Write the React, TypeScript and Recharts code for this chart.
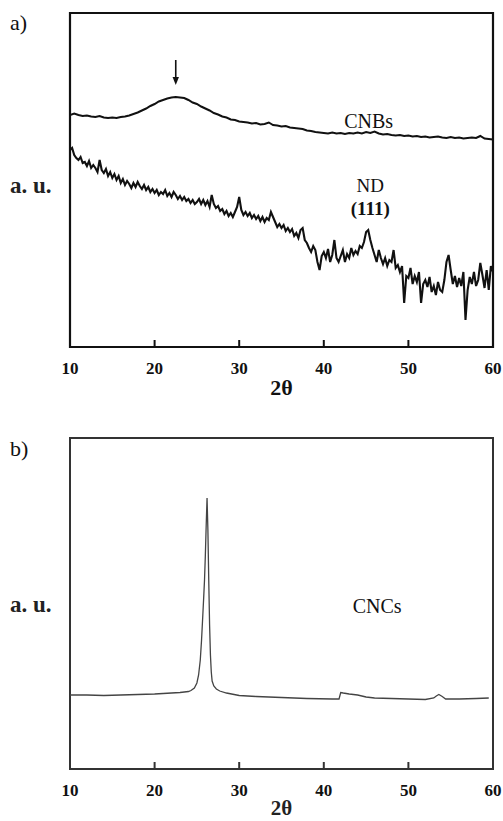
import React from 'react';
import { LineChart, Line, XAxis, YAxis, ReferenceArea, ReferenceDot, ReferenceLine } from 'recharts';

// ---------- panel a) ----------
const xTicks = [10, 20, 30, 40, 50, 60];

const cnbTheta = [
  10, 10.5, 11, 11.5, 12, 12.5, 13, 13.5, 14, 14.5, 15, 15.5, 16, 16.5, 17, 17.5, 18, 18.5, 19, 19.5,
  20, 20.5, 21, 21.5, 22, 22.5, 23, 23.5, 24, 24.5, 25, 25.5, 26, 26.5, 27, 27.5, 28, 28.5, 29, 29.5,
  30, 30.5, 31, 31.5, 32, 32.5, 33, 33.5, 34, 34.5, 35, 35.5, 36, 36.5, 37, 37.5, 38, 38.5, 39, 39.5,
  40, 40.5, 41, 41.5, 42, 42.5, 43, 43.5, 44, 44.5, 45, 45.5, 46, 46.5, 47, 47.5, 48, 48.5, 49, 49.5,
  50, 50.5, 51, 51.5, 52, 52.5, 53, 53.5, 54, 54.5, 55, 55.5, 56, 56.5, 57, 57.5, 58, 58.5, 59, 59.5,
  60,
];
const cnbIntensity = [
  232, 233.5, 232, 231, 231.5, 230.5, 230, 231, 229.5, 229, 229.5, 229, 230, 230.5, 231.5, 233, 234.5, 236.5, 238.5, 241,
  243, 245.5, 247, 248.5, 249.5, 250, 249.5, 249, 247, 244.5, 243, 240.5, 238.5, 236.5, 234, 232.5, 230.5, 229.5, 227.5, 227,
  225.5, 225, 224.5, 223.5, 224, 222.5, 223, 224.5, 222, 221.5, 220.5, 221, 219.5, 219, 218.5, 218, 216.5, 216, 215, 214.5,
  214, 213.5, 214.5, 213.5, 214, 213, 214, 213.5, 214.5, 213.5, 215, 214, 215.5, 213.5, 212.5, 213, 212, 211.5, 212, 211,
  211.5, 210.5, 211, 210, 210.5, 209.5, 210, 210.5, 209.5, 209, 210, 209, 209.5, 208.5, 209, 209.5, 209, 211, 208.5, 208,
  207.5,
];

const ndTheta = [
  10, 10.25, 10.5, 10.75, 11, 11.25, 11.5, 11.75, 12, 12.25, 12.5, 12.75, 13, 13.25, 13.5, 13.75,
  14, 14.25, 14.5, 14.75, 15, 15.25, 15.5, 15.75, 16, 16.25, 16.5, 16.75, 17, 17.25, 17.5, 17.75,
  18, 18.25, 18.5, 18.75, 19, 19.25, 19.5, 19.75, 20, 20.25, 20.5, 20.75, 21, 21.25, 21.5, 21.75,
  22, 22.25, 22.5, 22.75, 23, 23.25, 23.5, 23.75, 24, 24.25, 24.5, 24.75, 25, 25.25, 25.5, 25.75,
  26, 26.25, 26.5, 26.75, 27, 27.25, 27.5, 27.75, 28, 28.25, 28.5, 28.75, 29, 29.25, 29.5, 29.75,
  30, 30.25, 30.5, 30.75, 31, 31.25, 31.5, 31.75, 32, 32.25, 32.5, 32.75, 33, 33.25, 33.5, 33.75,
  34, 34.25, 34.5, 34.75, 35, 35.25, 35.5, 35.75, 36, 36.25, 36.5, 36.75, 37, 37.25, 37.5, 37.75,
  38, 38.25, 38.5, 38.75, 39, 39.25, 39.5, 39.75, 40, 40.25, 40.5, 40.75, 41, 41.25, 41.5, 41.75,
  42, 42.25, 42.5, 42.75, 43, 43.25, 43.5, 43.75, 44, 44.25, 44.5, 44.75, 45, 45.25, 45.5, 45.75,
  46, 46.25, 46.5, 46.75, 47, 47.25, 47.5, 47.75, 48, 48.25, 48.5, 48.75, 49, 49.25, 49.5, 49.75,
  50, 50.25, 50.5, 50.75, 51, 51.25, 51.5, 51.75, 52, 52.25, 52.5, 52.75, 53, 53.25, 53.5, 53.75,
  54, 54.25, 54.5, 54.75, 55, 55.25, 55.5, 55.75, 56, 56.25, 56.5, 56.75, 57, 57.25, 57.5, 57.75,
  58, 58.25, 58.5, 58.75, 59, 59.25, 59.5, 59.75, 60,
];
const ndIntensity = [
  197, 199, 192, 189, 187, 190, 184, 185, 181, 186, 179, 182, 179, 175, 187, 177,
  174, 178, 171, 175, 169, 173, 167, 171, 164, 168, 162, 166, 163, 159, 164, 160,
  165, 161, 158, 162, 157, 160, 155, 158, 154, 157, 152, 155, 153, 157, 151, 154,
  150, 155, 152, 148, 151, 147, 150, 146, 148, 144, 147, 143, 145, 148, 143, 147,
  142, 146, 140, 152, 143, 139, 141, 136, 138, 133, 136, 131, 134, 130, 135, 140,
  150, 137, 132, 135, 131, 134, 129, 132, 128, 131, 126, 130, 125, 129, 127, 135,
  130, 125, 120, 123, 119, 122, 116, 119, 115, 118, 111, 114, 109, 117, 119, 107,
  104, 99, 95, 101, 97, 85, 77, 91, 95, 89, 98, 85, 92, 107, 89, 85,
  91, 97, 85, 93, 89, 99, 92, 96, 93, 101, 99, 105, 115, 117, 107, 99,
  92, 85, 97, 89, 83, 89, 81, 87, 85, 97, 79, 82, 75, 81, 44, 71,
  69, 79, 63, 71, 65, 75, 44, 63, 67, 60, 70, 55, 61, 52, 65, 57,
  55, 67, 85, 92, 77, 63, 71, 60, 69, 61, 75, 27, 57, 70, 63, 75,
  61, 67, 84, 72, 59, 77, 57, 81, 75,
];

// ---------- panel b) ----------
const cncTheta = [
  10, 12, 14, 16, 18, 20, 22, 23, 24, 24.3, 24.7, 25, 25.2, 25.4, 25.55, 25.7, 25.8, 25.9, 26, 26.1,
  26.2, 26.3, 26.4, 26.5, 26.6, 26.7, 26.8, 27, 27.3, 27.7, 28.5, 30, 32, 35, 38, 41, 41.8, 42, 42.3, 43,
  44, 45, 46, 48, 50, 52, 53, 53.3, 53.6, 54, 54.4, 56, 58, 59.5,
];
const cncIntensity = [
  74, 74, 73.5, 74, 74.5, 75, 76, 76.5, 77.5, 78.5, 81, 86, 94, 109, 129, 154, 171, 189, 214, 244,
  271, 239, 189, 144, 114, 97, 88, 83, 80, 78, 76, 73.5, 72.5, 71.5, 70.5, 70, 70, 76.5, 76, 75,
  74, 72, 71, 70.5, 70, 69.5, 71, 73, 74.5, 72.5, 70, 70, 70.5, 71,
];

const cnbData = cnbTheta.map((t, i) => ({ theta: t, value: cnbIntensity[i] }));
const ndData = ndTheta.map((t, i) => ({ theta: t, value: ndIntensity[i] }));
const cncData = cncTheta.map((t, i) => ({ theta: t, value: cncIntensity[i] }));

const SERIF = "'Liberation Serif', 'DejaVu Serif', serif";

const makeTick = (color: string) => (props: any) => {
  const { x, y, payload } = props;
  return (
    <g>
      <line x1={x} x2={x} y1={y} y2={y - 7} stroke={color} strokeWidth={2} />
      <text x={x} y={y + 27} textAnchor="middle" fontFamily={SERIF} fontWeight="bold" fontSize={17} fill="#111">
        {payload.value}
      </text>
    </g>
  );
};

const textShape = (label: string, size: number, bold: boolean) => (props: any) => (
  <text
    x={props.cx}
    y={props.cy}
    textAnchor="middle"
    fontFamily={SERIF}
    fontSize={size}
    fontWeight={bold ? 'bold' : 'normal'}
    fill="#111"
  >
    {label}
  </text>
);

const ArrowShape = (props: any) => {
  const { x1, y1, x2, y2 } = props;
  return (
    <g>
      <line x1={x1} y1={y1} x2={x2} y2={y2 - 6} stroke="#111" strokeWidth={1.6} />
      <path d={`M${x2 - 3.2},${y2 - 8} L${x2 + 3.2},${y2 - 8} L${x2},${y2} Z`} fill="#111" />
    </g>
  );
};

export default function App() {
  return (
    <div style={{ position: 'absolute', left: 0, top: 0, width: 503, height: 821, background: '#fff' }}>
      <div style={{ position: 'absolute', left: 0, top: 0 }}>
        <LineChart width={503} height={400} margin={{ top: 13, right: 10, bottom: 0, left: 70 }}>
          <XAxis
            dataKey="theta"
            type="number"
            domain={[10, 60]}
            ticks={xTicks}
            allowDataOverflow
            axisLine={false}
            tickLine={false}
            tickSize={0}
            tickMargin={0}
            height={53}
            interval={0}
            tick={makeTick('#111')}
            label={{ value: '2θ', position: 'insideBottom', offset: 5, fontFamily: SERIF, fontWeight: 'bold', fontSize: 22, fill: '#111' }}
          />
          <YAxis type="number" domain={[0, 334]} hide width={0} allowDataOverflow />
          <ReferenceArea x1={10} x2={60} y1={0} y2={334} fill="none" fillOpacity={0} stroke="#111" strokeWidth={2.2} ifOverflow="visible" />
          <Line data={cnbData} dataKey="value" stroke="#111" strokeWidth={2} dot={false} isAnimationActive={false} />
          <Line data={ndData} dataKey="value" stroke="#111" strokeWidth={2.1} dot={false} isAnimationActive={false} />
          <ReferenceLine segment={[{ x: 22.5, y: 287 }, { x: 22.5, y: 262 }]} shape={ArrowShape} ifOverflow="visible" />
          <ReferenceDot x={45.3} y={219} r={0} ifOverflow="visible" shape={textShape('CNBs', 20, false)} />
          <ReferenceDot x={45.5} y={155} r={0} ifOverflow="visible" shape={textShape('ND', 19, false)} />
          <ReferenceDot x={45.5} y={132} r={0} ifOverflow="visible" shape={textShape('(111)', 19, true)} />
        </LineChart>
      </div>
      <div style={{ position: 'absolute', left: 0, top: 400 }}>
        <LineChart width={503} height={421} margin={{ top: 38, right: 10, bottom: 0, left: 70 }}>
          <XAxis
            dataKey="theta"
            type="number"
            domain={[10, 60]}
            ticks={xTicks}
            allowDataOverflow
            axisLine={false}
            tickLine={false}
            tickSize={0}
            tickMargin={0}
            height={52}
            interval={0}
            tick={makeTick('#333')}
            label={{ value: '2θ', position: 'insideBottom', offset: 6, fontFamily: SERIF, fontWeight: 'bold', fontSize: 21, fill: '#222' }}
          />
          <YAxis type="number" domain={[0, 331]} hide width={0} allowDataOverflow />
          <ReferenceArea x1={10} x2={60} y1={0} y2={331} fill="none" fillOpacity={0} stroke="#333" strokeWidth={2} ifOverflow="visible" />
          <Line data={cncData} dataKey="value" stroke="#444" strokeWidth={1.3} dot={false} isAnimationActive={false} />
          <ReferenceDot x={46.3} y={156} r={0} ifOverflow="visible" shape={textShape('CNCs', 20, false)} />
        </LineChart>
      </div>
      <svg width={503} height={821} style={{ position: 'absolute', left: 0, top: 0, pointerEvents: 'none' }}>
        <text x={10} y={30} fontFamily={SERIF} fontSize={22} fill="#111">a)</text>
        <text x={10} y={193} fontFamily={SERIF} fontSize={23} fontWeight="bold" fill="#222">a. u.</text>
        <text x={10} y={456} fontFamily={SERIF} fontSize={22} fill="#111">b)</text>
        <text x={10} y={612} fontFamily={SERIF} fontSize={23} fontWeight="bold" fill="#222">a. u.</text>
      </svg>
    </div>
  );
}
